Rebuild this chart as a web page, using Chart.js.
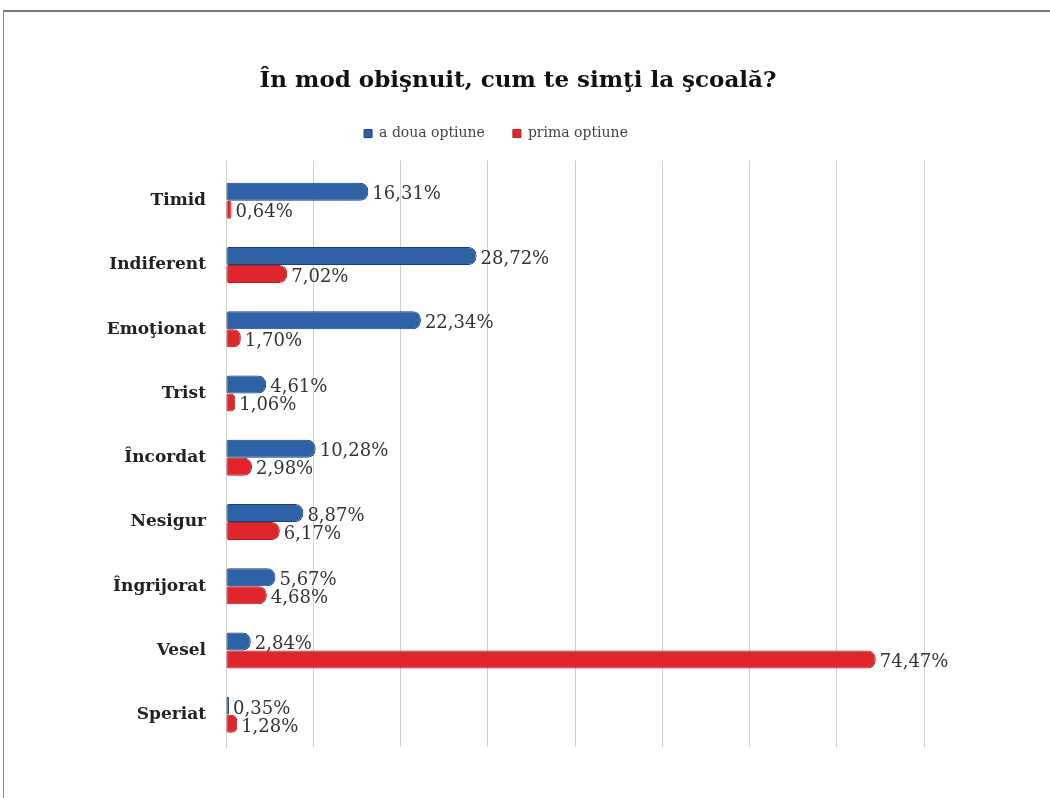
<!DOCTYPE html>
<html>
<head>
<meta charset="utf-8">
<script src="https://cdn.jsdelivr.net/npm/chart.js@4"></script>
<style>
  html, body { margin: 0; padding: 0; background: #fff; }
  #wrap { position: relative; width: 1050px; height: 798px; overflow: hidden; }
  #frame { position: absolute; left: 3px; top: 10px; width: 1100px; height: 900px;
           border-left: 1px solid #8a8a8a; border-top: 2px solid #7a7a7a; }
  canvas { position: absolute; left: 0; top: 0; }
</style>
</head>
<body>
<div id="wrap">
  <div id="frame"></div>
  <canvas id="feelChart" width="1050" height="798"></canvas>
</div>
<script>
// categories, top to bottom
const categories = ['Timid', 'Indiferent', 'Emoţionat', 'Trist', 'Încordat', 'Nesigur', 'Îngrijorat', 'Vesel', 'Speriat'];
const secondOption = [16.31, 28.72, 22.34, 4.61, 10.28, 8.87, 5.67, 2.84, 0.35];
const firstOption = [0.64, 7.02, 1.70, 1.06, 2.98, 6.17, 4.68, 74.47, 1.28];
const seriesNames = ['a doua optiune', 'prima optiune'];
const titleText = 'În mod obişnuit, cum te simţi la şcoală?';

const serif = "'DejaVu Serif', 'Liberation Serif', serif";

// percent labels next to the bar ends
const valueLabels = {
    id: 'valueLabels',
    afterDatasetsDraw(chart) {
        const ctx = chart.ctx;
        ctx.save();
        ctx.font = '18px ' + serif;
        ctx.fillStyle = '#333';
        ctx.textBaseline = 'middle';
        ctx.textAlign = 'left';
        chart.data.datasets.forEach((ds, i) => {
            const meta = chart.getDatasetMeta(i);
            meta.data.forEach((bar, j) => {
                const txt = ds.data[j].toFixed(2).replace('.', ',') + '%';
                ctx.fillText(txt, bar.x + 4, bar.y + 3);
            });
        });
        ctx.restore();
    }
};

// title and legend sit a bit right of the plot centre in the original
const headerShift = {
    id: 'headerShift',
    afterLayout(chart) {
        chart.titleBlock.left += 56;
        chart.titleBlock.right += 56;
        chart.legend.left += 34;
        chart.legend.right += 34;
    }
};

const ctx = document.getElementById('feelChart').getContext('2d');
const feelChart = new Chart(ctx, {
    type: 'bar',
    data: {
        labels: categories,
        datasets: [{
            label: seriesNames[0],
            data: secondOption,
            backgroundColor: '#2b62a8',
            borderColor: '#1d3f6e',
            borderWidth: 1,
            borderSkipped: false,
            borderRadius: { topLeft: 2, bottomLeft: 2, topRight: 8, bottomRight: 8 }
        }, {
            label: seriesNames[1],
            data: firstOption,
            backgroundColor: '#e0262b',
            borderColor: '#b51d20',
            borderWidth: 1,
            borderSkipped: false,
            borderRadius: { topLeft: 2, bottomLeft: 2, topRight: 8, bottomRight: 8 }
        }]
    },
    options: {
        indexAxis: 'y',
        responsive: false,
        animation: false,
        datasets: {
            bar: { categoryPercentage: 0.56, barPercentage: 1 }
        },
        layout: { padding: { left: 0, right: 126, top: 0, bottom: 51 } },
        plugins: {
            title: {
                display: true,
                text: titleText,
                color: '#111',
                font: { family: serif, size: 23, weight: 'bold' },
                padding: { top: 67, bottom: 4 }
            },
            legend: {
                display: true,
                labels: {
                    color: '#444',
                    font: { family: serif, size: 14 },
                    boxWidth: 8,
                    boxHeight: 8,
                    padding: 28
                }
            },
            tooltip: { enabled: false }
        },
        scales: {
            x: {
                position: 'top',
                min: 0,
                max: 80,
                afterFit(scale) { scale.height = 18; },
                ticks: { display: false, stepSize: 10 },
                grid: { color: '#cfcfcf', drawTicks: true, tickLength: 8 },
                border: { display: false }
            },
            y: {
                afterFit(scale) { scale.width = 226; },
                ticks: {
                    color: '#222',
                    font: { family: serif, size: 17, weight: 'bold' },
                    padding: 20
                },
                grid: { display: false, drawTicks: false },
                border: { display: true, color: '#cfcfcf' }
            }
        }
    },
    plugins: [valueLabels, headerShift]
});
</script>
</body>
</html>
